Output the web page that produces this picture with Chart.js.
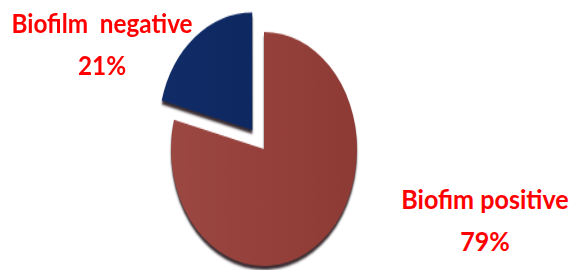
<!DOCTYPE html>
<html>
<head>
<meta charset="utf-8">
<script src="https://cdn.jsdelivr.net/npm/chart.js@4"></script>
<style>
  html, body { margin: 0; padding: 0; background: #fff; }
  body { width: 570px; height: 270px; position: relative; overflow: hidden; }
  #wrap { position: absolute; left: 144px; top: -2px; width: 240px; height: 240px;
          transform: scaleY(1.258); transform-origin: 0 0; }
  .lbl { position: absolute; color: #ff0000; font-family: 'Lato', sans-serif;
         font-weight: bold; font-size: 27px; line-height: 42px; text-align: center; white-space: pre; }
</style>
</head>
<body>
<div id="wrap"><canvas id="pie"></canvas></div>
<div class="lbl" id="lbl0"></div>
<div class="lbl" id="lbl1"></div>
<script>
'use strict'

// data
const labels = ['Biofim positive', 'Biofilm  negative'];
const values = [79, 21];
const colors = ['#95403b', '#0e2a62'];
const offsets = [0, 76];   // chart.js moves the arc offset/4 px

// label boxes (centre x, top y, horizontal squeeze)
const labelPos = [[485, 178, 0.93], [102, 2, 0.9]];

const total = values.reduce((a, b) => a + b, 0);
for (let i = 0; i < labels.length; i++) {
  let el = document.getElementById('lbl' + i);
  el.textContent = labels[i] + '\n' + Math.round(values[i] / total * 100) + '%';
  el.style.left = labelPos[i][0] + 'px';
  el.style.top = labelPos[i][1] + 'px';
  el.style.transform = 'translateX(-50%) scaleX(' + labelPos[i][2] + ')';
}

function sliceFill(ctx) {
  const c = ctx.chart.ctx;
  const area = ctx.chart.chartArea;
  if (!area) return colors[ctx.dataIndex];
  let g = c.createLinearGradient(area.left, 0, area.right, 0);
  if (ctx.dataIndex === 0) {
    g.addColorStop(0, '#9d4944');
    g.addColorStop(0.5, '#95403b');
    g.addColorStop(1, '#8b3934');
  } else {
    g.addColorStop(0, '#112d69');
    g.addColorStop(1, '#0b2459');
  }
  return g;
}

// dark rim underneath for the 3d look
const rimShadow = {
  id: 'rimShadow',
  beforeDatasetDraw(chart) {
    const c = chart.ctx;
    c.save();
    c.shadowColor = 'rgba(20,5,10,0.85)';
    c.shadowOffsetY = 3;
    c.shadowOffsetX = 0;
    c.shadowBlur = 2;
  },
  afterDatasetDraw(chart) {
    chart.ctx.restore();
  }
};

new Chart(document.getElementById('pie'), {
  type: 'pie',
  data: {
    labels: labels,
    datasets: [{
      data: values,
      backgroundColor: sliceFill,
      borderWidth: 0,
      offset: offsets
    }]
  },
  options: {
    responsive: true,
    maintainAspectRatio: false,
    animation: false,
    radius: 93,
    plugins: { legend: { display: false }, tooltip: { enabled: false } }
  },
  plugins: [rimShadow]
});
</script>
</body>
</html>
